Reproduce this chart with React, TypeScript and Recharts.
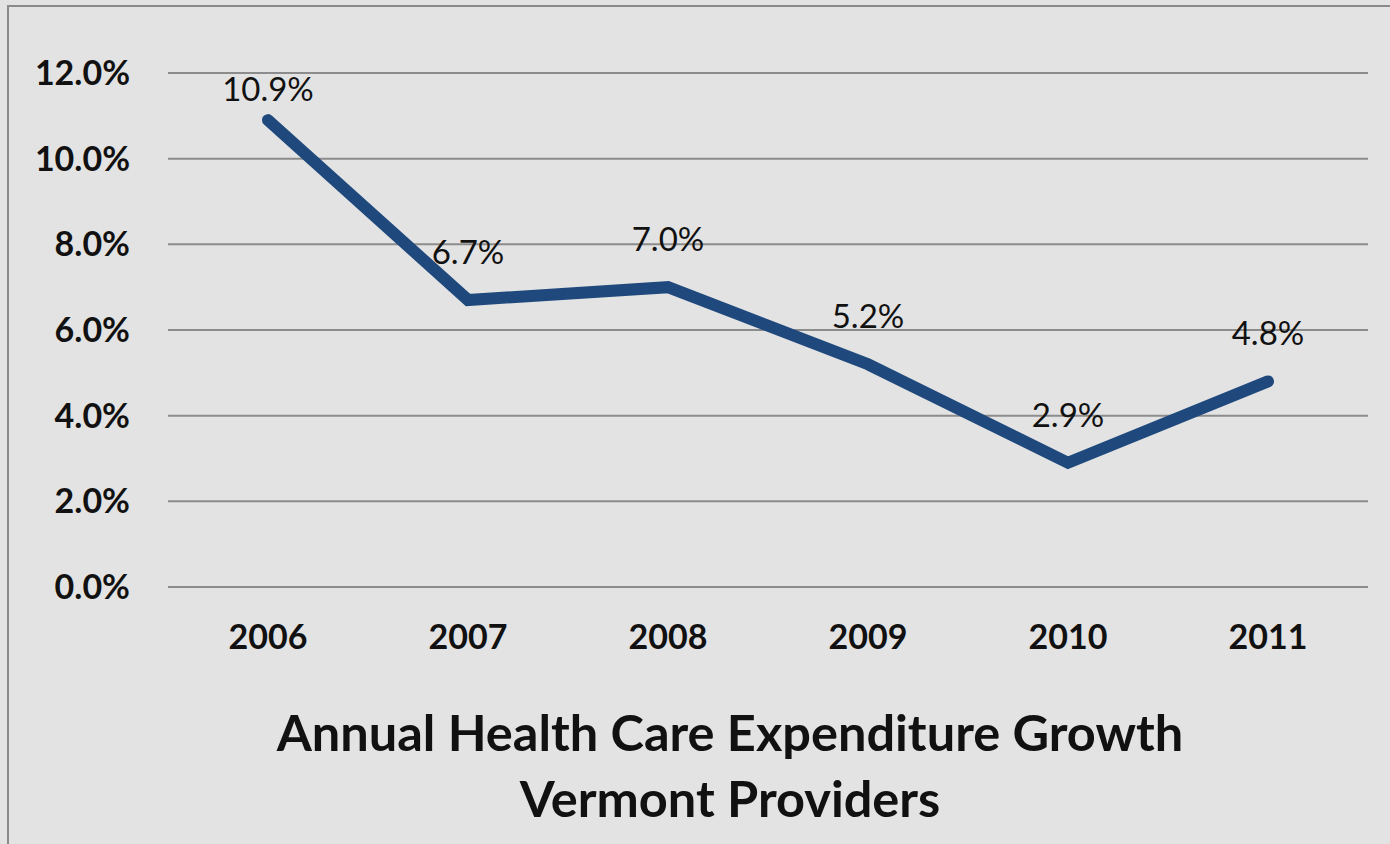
import React from 'react';
import { LineChart, Line, XAxis, YAxis, CartesianGrid, LabelList } from 'recharts';

const years = ['2006', '2007', '2008', '2009', '2010', '2011'];
const growth = [10.9, 6.7, 7.0, 5.2, 2.9, 4.8];
const yTicks = [0, 2, 4, 6, 8, 10, 12];
const titleLines = ['Annual Health Care Expenditure Growth', 'Vermont Providers'];

const data = years.map((year, i) => ({ year, growth: growth[i] }));

const FONT = 'Lato, "Open Sans", sans-serif';

const ValueLabel = (props: any) => {
  const { x, y, value } = props;
  const cy = Math.max(y - 49, 88);
  return (
    <text
      x={x}
      y={cy}
      textAnchor="middle"
      dominantBaseline="central"
      fontFamily={FONT}
      fontSize={33}
      fill="#111"
    >
      {`${Number(value).toFixed(1)}%`}
    </text>
  );
};

export default function App() {
  return (
    <div
      style={{
        position: 'absolute',
        left: 0,
        top: 0,
        width: 1390,
        height: 844,
        background: '#e3e3e3',
        overflow: 'hidden',
        fontFamily: FONT,
      }}
    >
      <div
        style={{
          position: 'absolute',
          left: 7,
          top: 5,
          width: 1400,
          height: 900,
          borderLeft: '2px solid #8a8a8a',
          borderTop: '2px solid #8a8a8a',
        }}
      />
      <LineChart
        width={1390}
        height={844}
        data={data}
        margin={{ top: 73, right: 22, bottom: 197, left: 0 }}
        style={{ position: 'absolute', left: 0, top: 0 }}
      >
        <CartesianGrid vertical={false} stroke="#8c8c8c" strokeWidth={2} />
        <XAxis
          dataKey="year"
          height={60}
          axisLine={false}
          tickLine={false}
          tickSize={0}
          tickMargin={38}
          padding={{ left: 100, right: 100 }}
          tick={{ fontFamily: FONT, fontSize: 34, fontWeight: 700, fill: '#111' }}
        />
        <YAxis
          width={168}
          domain={[0, 12]}
          ticks={yTicks}
          axisLine={false}
          tickLine={false}
          tickSize={0}
          tickMargin={38}
          tickFormatter={(v: number) => `${v.toFixed(1)}%`}
          tick={{ fontFamily: FONT, fontSize: 34, fontWeight: 700, fill: '#111' }}
        />
        <Line
          type="linear"
          dataKey="growth"
          stroke="#1f497d"
          strokeWidth={12}
          strokeLinecap="round"
          strokeLinejoin="miter"
          dot={false}
          activeDot={false}
          isAnimationActive={false}
        >
          <LabelList dataKey="growth" content={<ValueLabel />} />
        </Line>
      </LineChart>
      <div
        style={{
          position: 'absolute',
          left: 0,
          top: 699,
          width: 1460,
          textAlign: 'center',
          fontSize: 50.5,
          fontWeight: 700,
          lineHeight: '66px',
          color: '#111',
        }}
      >
        {titleLines.map((t) => (
          <div key={t}>{t}</div>
        ))}
      </div>
    </div>
  );
}
